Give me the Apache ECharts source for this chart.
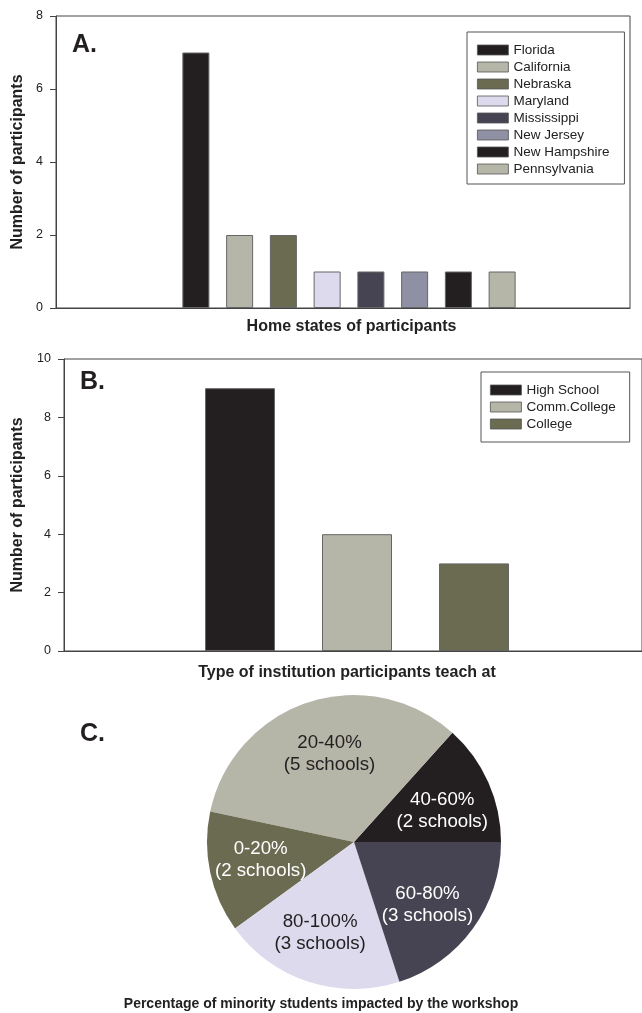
<!DOCTYPE html>
<html><head><meta charset="utf-8">
<script src="https://cdn.jsdelivr.net/npm/echarts@6/dist/echarts.min.js"></script>
<style>html,body{margin:0;padding:0;background:#fff}#c{width:642px;height:1013px}</style>
</head><body><div id="c"></div><script>
// ---- data ----
const states = ['Florida','California','Nebraska','Maryland','Mississippi','New Jersey','New Hampshire','Pennsylvania'];
const stateCounts = [7,2,2,1,1,1,1,1];
const institutions = ['High School','Comm.College','College'];
const institutionCounts = [9,4,3];
const minorityRanges = ['40-60%','20-40%','0-20%','80-100%','60-80%'];
const minoritySchools = [2,5,2,3,3];
const axisA = {min:0, max:8, interval:2};
const axisB = {min:0, max:10, interval:2};

// ---- styles ----
const FONT = 'Liberation Sans, Arial, Helvetica, sans-serif';
const stateColors = ['#231f20','#b5b5a8','#6b6b52','#dcdaec','#464452','#9090a4','#231f20','#b5b5a8'];
const instColors = ['#231f20','#b5b5a8','#6b6b52'];
const pieColors = ['#231f20','#b5b5a8','#6b6b52','#dcdaec','#464452'];
const pieTextColors = ['#fff','#231f20','#fff','#231f20','#fff'];
const AX = '#444';

function oneHot(n, i, v){ return Array.from({length:n}, (_, k) => k === i ? v : '-'); }

const frameY = (r, gi, name, gap) => ({
  type:'value', gridIndex:gi, min:r.min, max:r.max, interval:r.interval,
  axisLine:{show:true, lineStyle:{color:AX, width:1}},
  axisTick:{show:true, length:6, lineStyle:{color:AX}},
  axisLabel:{color:'#222', fontSize:12.5, fontFamily:FONT, margin:13},
  splitLine:{show:false},
  name:name, nameLocation:'middle', nameRotate:90, nameGap:gap,
  nameTextStyle:{fontSize:16, fontWeight:'bold', color:'#222', fontFamily:FONT}
});
const hiddenY = (r, gi) => ({type:'value', gridIndex:gi, min:r.min, max:r.max, interval:r.interval, show:false});

const option = {
  animation:false,
  grid:[
    {left:56, top:16, width:574, height:292, show:true, borderColor:AX, borderWidth:1, backgroundColor:'transparent'},
    {left:174, top:16, width:350, height:292},
    {left:64, top:359, width:582, height:292, show:true, borderColor:AX, borderWidth:1, backgroundColor:'transparent'},
    {left:181.5, top:359, width:351, height:292}
  ],
  xAxis:[
    {type:'value', gridIndex:0, min:0, max:1, axisLine:{show:true, onZero:false, lineStyle:{color:AX}}, axisTick:{show:false}, axisLabel:{show:false}, splitLine:{show:false},
     name:'Home states of participants', nameLocation:'middle', nameGap:11,
     nameTextStyle:{fontSize:16, fontWeight:'bold', color:'#222', fontFamily:FONT, padding:[0,0,0,17], verticalAlign:'top'}},
    {type:'category', gridIndex:1, data:states, show:false},
    {type:'value', gridIndex:2, min:0, max:1, axisLine:{show:true, onZero:false, lineStyle:{color:AX}}, axisTick:{show:false}, axisLabel:{show:false}, splitLine:{show:false},
     name:'Type of institution participants teach at', nameLocation:'middle', nameGap:14,
     nameTextStyle:{fontSize:16, fontWeight:'bold', color:'#222', fontFamily:FONT, padding:[0,12,0,0], verticalAlign:'top'}},
    {type:'category', gridIndex:3, data:institutions, show:false}
  ],
  yAxis:[
    frameY(axisA, 0, 'Number of participants', 30),
    hiddenY(axisA, 1),
    frameY(axisB, 2, 'Number of participants', 38),
    hiddenY(axisB, 3)
  ],
  legend:[
    {data:states, orient:'vertical', left:467, top:32, itemWidth:31, itemHeight:10, itemGap:3, padding:[11,15,8,10],
     borderColor:'#555', borderWidth:1, selectedMode:false, icon:'rect',
     itemStyle:{borderWidth:0.8, borderColor:'#555'},
     textStyle:{fontSize:13.5, color:'#222', fontFamily:FONT}},
    {data:institutions, orient:'vertical', left:481, top:372, itemWidth:31, itemHeight:10, itemGap:3, padding:[11,14,11,9],
     borderColor:'#555', borderWidth:1, selectedMode:false, icon:'rect',
     itemStyle:{borderWidth:0.8, borderColor:'#555'},
     textStyle:{fontSize:13.5, color:'#222', fontFamily:FONT}}
  ],
  title:[
    {text:'A.', left:72, top:33, padding:0, textStyle:{fontSize:25, fontWeight:'bold', color:'#231f20', fontFamily:FONT}},
    {text:'B.', left:80, top:370, padding:0, textStyle:{fontSize:25, fontWeight:'bold', color:'#231f20', fontFamily:FONT}},
    {text:'C.', left:80, top:722, padding:0, textStyle:{fontSize:25, fontWeight:'bold', color:'#231f20', fontFamily:FONT}},
    {text:'Percentage of minority students impacted by the workshop', left:'center', top:997, padding:0,
     textStyle:{fontSize:14, fontWeight:'bold', color:'#222', fontFamily:FONT}}
  ],
  series:[
    ...states.map((s, i) => ({
      type:'bar', name:s, xAxisIndex:1, yAxisIndex:1, stack:'a', barWidth:27,
      data:oneHot(states.length, i, stateCounts[i]),
      itemStyle:{color:stateColors[i], borderColor:'#666', borderWidth:1},
      emphasis:{disabled:true}
    })),
    ...institutions.map((s, i) => ({
      type:'bar', name:s, xAxisIndex:3, yAxisIndex:3, stack:'b', barWidth:70,
      data:oneHot(institutions.length, i, institutionCounts[i]),
      itemStyle:{color:instColors[i], borderColor:'#666', borderWidth:1},
      emphasis:{disabled:true}
    })),
    {type:'pie', center:[354,842], radius:147, startAngle:0, clockwise:false, silent:true,
     label:{show:false}, labelLine:{show:false}, emphasis:{disabled:true},
     data:minorityRanges.map((r, i) => ({name:r, value:minoritySchools[i], itemStyle:{color:pieColors[i]}}))},
    {type:'pie', center:[354,845], radius:[36,147], startAngle:-3, clockwise:false, silent:true,
     labelLine:{show:false}, emphasis:{disabled:true},
     label:{show:true, position:'inside', fontSize:18.7, lineHeight:22, fontFamily:FONT, formatter:'{b}\n({c} schools)'},
     data:minorityRanges.map((r, i) => ({name:r, value:minoritySchools[i], itemStyle:{color:'rgba(0,0,0,0)'},
       label:{color:pieTextColors[i]}}))}
  ]
};
const chart = echarts.init(document.getElementById('c'), null, {renderer:'canvas'});
chart.setOption(option);
</script></body></html>
